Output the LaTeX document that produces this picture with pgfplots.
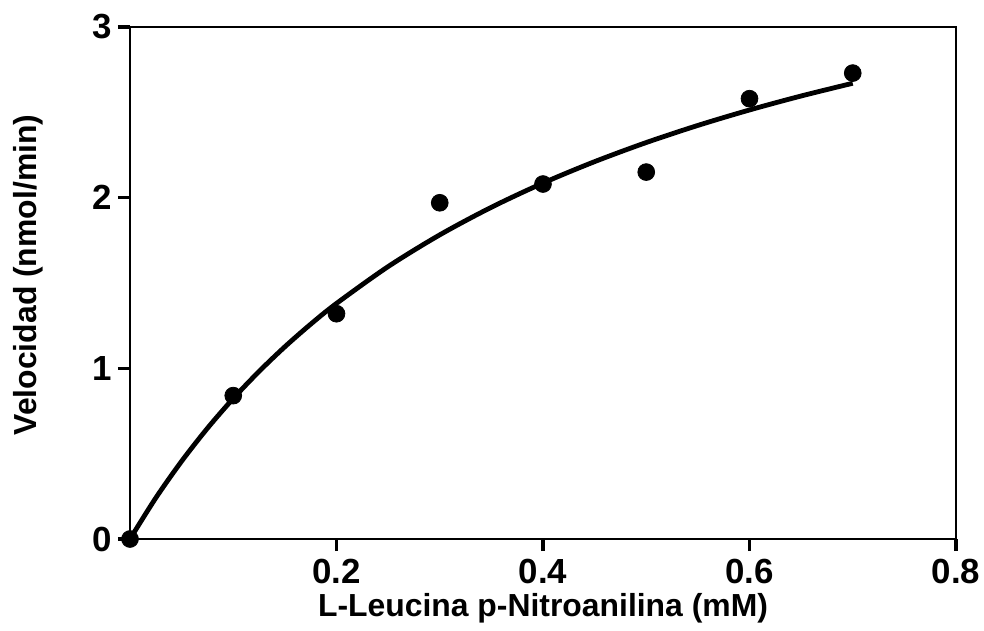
\documentclass[border=0pt]{standalone}
\usepackage{pgfplots}
\pgfplotsset{compat=1.18}
\usepackage{fontspec}
\setmainfont{Liberation Sans}
\begin{document}
\begin{tikzpicture}
\useasboundingbox (-65bp,-46bp) rectangle (427bp,269.5bp);
\begin{axis}[
  at={(0,0)}, anchor=south west,
  scale only axis,
  width=413bp, height=256bp,
  xmin=0, xmax=0.8, ymin=0, ymax=3,
  xtick={0.2,0.4,0.6,0.8},
  xticklabels={0.2,0.4,0.6,0.8},
  ytick={0,1,2,3},
  axis line style={line width=1.4bp},
  tick style={line width=1.8bp, black},
  tick align=outside,
  major tick length=6bp,
  xtick pos=bottom, ytick pos=left,
  /pgf/number format/assume math mode=true,
  ticklabel style={font=\fontsize{17.5}{19}\selectfont\bfseries},
  xticklabel style={yshift=-0.5bp},
  yticklabel style={xshift=0.5bp},
  every axis x label/.style={at={(rel axis cs:0.5,0)}, anchor=center, yshift=-34.5bp, font=\fontsize{16}{18}\selectfont\bfseries},
  every axis y label/.style={at={(rel axis cs:0,0.5)}, xshift=-51bp, yshift=4bp, anchor=center, rotate=90, font=\fontsize{16}{18}\selectfont\bfseries},
  xlabel={L-Leucina p-Nitroanilina (mM)},
  ylabel={Velocidad (nmol/min)},
  clip=false,
]
\addplot[black, line width=2.4bp, smooth] coordinates {
(0,0) (0.025,0.2407) (0.05,0.4557) (0.075,0.6489) (0.1,0.8234)
(0.125,0.9818) (0.15,1.1264) (0.175,1.2587) (0.2,1.3803)
(0.25,1.5962) (0.3,1.7820) (0.35,1.9437) (0.4,2.0856)
(0.45,2.2111) (0.5,2.3230) (0.55,2.4233) (0.6,2.5138)
(0.65,2.5957) (0.7,2.6704)
};
\addplot[only marks, mark=*, mark size=4.2bp, black] coordinates {
(0,0) (0.1,0.84) (0.2,1.32) (0.3,1.97) (0.4,2.08) (0.5,2.15) (0.6,2.58) (0.7,2.73)
};
\end{axis}
\end{tikzpicture}
\end{document}
